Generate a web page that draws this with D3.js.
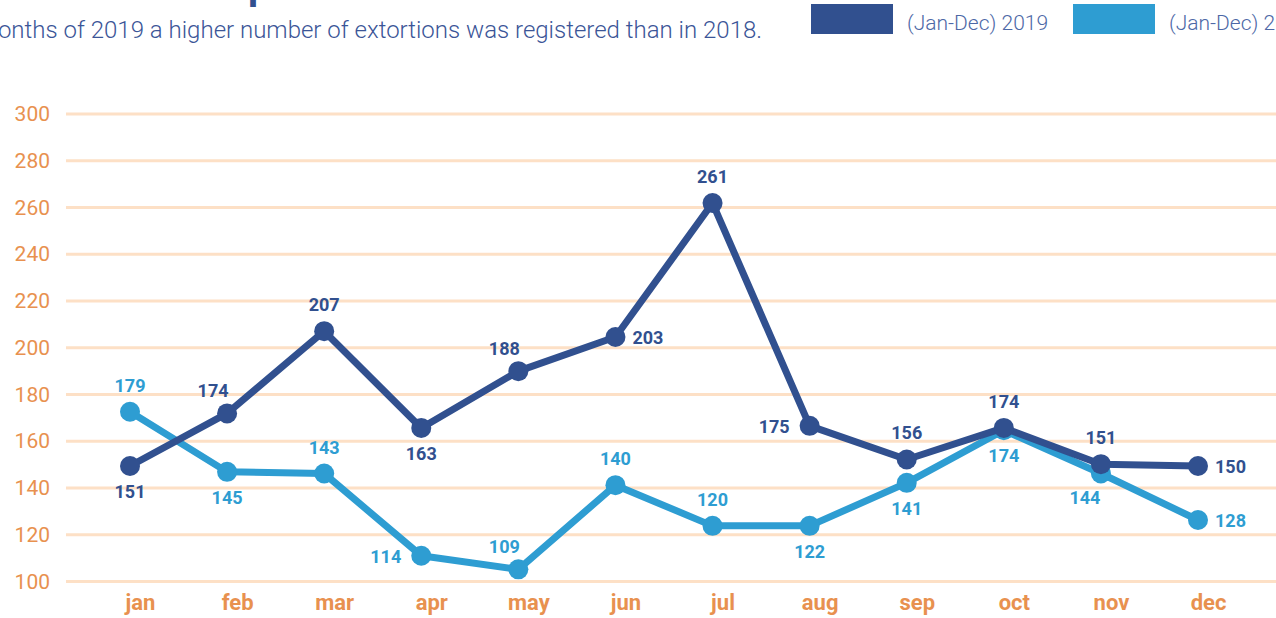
<!DOCTYPE html>
<html>
<head>
<meta charset="utf-8">
<script src="https://cdn.jsdelivr.net/npm/d3@7"></script>
<style>
    body { margin: 0; background: #fff; }
    svg { display: block; font-family: Roboto, "Noto Sans", sans-serif; }
</style>
</head>
<body>
<div id="chart"></div>
<script>
const months = ["jan", "feb", "mar", "apr", "may", "jun", "jul", "aug", "sep", "oct", "nov", "dec"]
const yTicks = [100, 120, 140, 160, 180, 200, 220, 240, 260, 280, 300]

// plotted positions
const values2019 = [149.4, 171.9, 207.1, 165.7, 190, 204.6, 261.9, 166.6, 152.2, 165.7, 150.2, 149.4]
const values2018 = [172.6, 146.9, 146.2, 111, 105.2, 141.2, 123.8, 123.8, 142.2, 164.7, 146.2, 126.3]

// printed labels
const labels2019 = [151, 174, 207, 163, 188, 203, 261, 175, 156, 174, 151, 150]
const labels2018 = [179, 145, 143, 114, 109, 140, 120, 122, 141, 174, 144, 128]

// where each label sits relative to its point
const place2019 = ["s", "nw", "n", "s", "nw", "e", "n", "w", "n", "n", "n", "e"]
const place2018 = ["n", "s", "n", "w", "nw", "n", "n", "s", "s", "s", "sw", "e"]

const W = 1276, H = 618
const dark = "#31508f", light = "#2e9dd2", orange = "#e8914f", grid = "#fde0c6"

const svg = d3.select("#chart").append("svg")
    .attr("width", W)
    .attr("height", H)

const x = d3.scalePoint().domain(months).range([130, 1198])
const y = d3.scaleLinear().domain([100, 300]).range([581.5, 114])

/* TITLE (cut off at top) */
svg.append("text")
    .attr("x", 250).attr("y", -1)
    .attr("text-anchor", "end")
    .attr("font-size", 40).attr("font-weight", 700)
    .attr("fill", dark)
    .text("Extortions ")
svg.append("text")
    .attr("x", 248).attr("y", -1)
    .attr("font-size", 40).attr("font-weight", 700)
    .attr("fill", dark)
    .text("per month")

svg.append("text")
    .attr("x", 762).attr("y", 38)
    .attr("text-anchor", "end")
    .attr("font-size", 24).attr("font-weight", 300)
    .attr("fill", "#3b5597")
    .text("In most months of 2019 a higher number of extortions was registered than in 2018.")

/* LEGEND */
const legend = [
    {name: "(Jan-Dec) 2019", color: dark, x: 811},
    {name: "(Jan-Dec) 2018", color: light, x: 1073}
]
legend.forEach(d => {
    svg.append("rect")
        .attr("x", d.x).attr("y", 4)
        .attr("width", 82).attr("height", 30)
        .attr("fill", d.color)
    svg.append("text")
        .attr("x", d.x + 96).attr("y", 30)
        .attr("font-size", 21).attr("font-weight", 300)
        .attr("fill", "#4d68a6")
        .text(d.name)
})

/* GRID + Y AXIS */
svg.append("g")
    .selectAll("line")
    .data(yTicks)
    .enter()
    .append("line")
    .attr("x1", 66).attr("x2", W)
    .attr("y1", d => y(d)).attr("y2", d => y(d))
    .attr("stroke", grid)
    .attr("stroke-width", 3)

const yAxis = svg.append("g")
    .attr("transform", "translate(50, 0)")
    .call(d3.axisLeft(y).tickValues(yTicks).tickSize(0).tickPadding(0))
yAxis.select(".domain").remove()
yAxis.selectAll("text")
    .attr("font-family", "Roboto, sans-serif")
    .attr("font-size", 21)
    .attr("fill", orange)

/* X AXIS */
const xAxis = svg.append("g")
    .attr("transform", "translate(10, 593)")
    .call(d3.axisBottom(x).tickSize(0).tickPadding(0))
xAxis.select(".domain").remove()
xAxis.selectAll("text")
    .attr("font-family", "Roboto, sans-serif")
    .attr("font-size", 22)
    .attr("font-weight", 700)
    .attr("fill", orange)
    .attr("dy", "0.75em")

/* SERIES */
const offsets = {
    n: [0, -20, "middle"],
    s: [0, 32, "middle"],
    e: [17, 7, "start"],
    w: [-20, 7, "end"],
    nw: [-14, -16, "middle"],
    sw: [-16, 30, "middle"]
}

function drawSeries(values, labels, places, color) {
    const data = months.map((m, i) => ({m, v: values[i], label: labels[i], place: places[i]}))
    const g = svg.append("g")

    g.append("path")
        .datum(data)
        .attr("d", d3.line(d => x(d.m), d => y(d.v)))
        .attr("fill", "none")
        .attr("stroke", color)
        .attr("stroke-width", 7)
        .attr("stroke-linejoin", "round")

    g.selectAll("circle")
        .data(data)
        .enter()
        .append("circle")
        .attr("cx", d => x(d.m))
        .attr("cy", d => y(d.v))
        .attr("r", 10)
        .attr("fill", color)

    g.selectAll("text")
        .data(data)
        .enter()
        .append("text")
        .attr("x", d => x(d.m) + offsets[d.place][0])
        .attr("y", d => y(d.v) + offsets[d.place][1])
        .attr("text-anchor", d => offsets[d.place][2])
        .attr("font-size", 18)
        .attr("font-weight", 700)
        .attr("fill", color)
        .text(d => d.label)
}

drawSeries(values2018, labels2018, place2018, light)
drawSeries(values2019, labels2019, place2019, dark)
</script>
</body>
</html>
